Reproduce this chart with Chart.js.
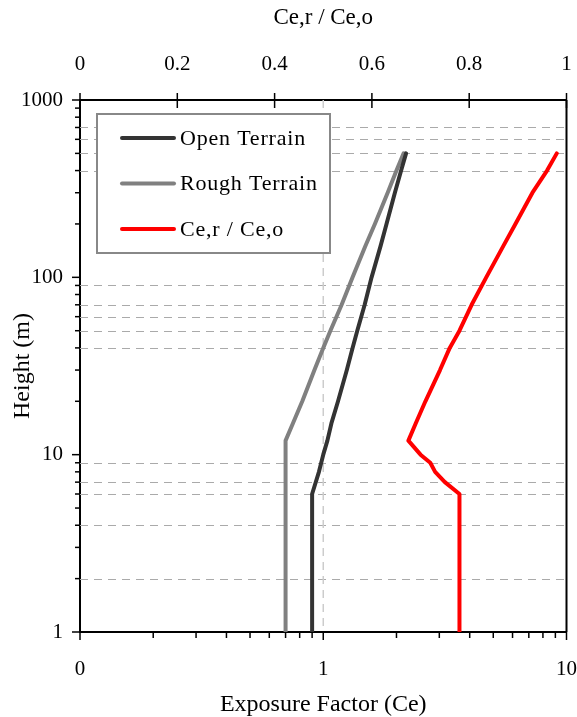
<!DOCTYPE html>
<html>
<head>
<meta charset="utf-8">
<script src="https://cdn.jsdelivr.net/npm/chart.js@4.4.1/dist/chart.umd.min.js"></script>
<style>
  html, body { margin: 0; padding: 0; background: #fff; }
  #wrap { width: 577px; height: 717px; }
</style>
</head>
<body>
<div id="wrap"><canvas id="c" width="577" height="717"></canvas></div>
<script>
"use strict";

// ---- values ----
const openHeight  = [1, 6, 8, 10, 12, 15, 20, 30, 40, 50, 70, 100, 150, 200, 300, 400, 500];
const openCe      = [0.90, 0.90, 0.96, 1.00, 1.04, 1.08, 1.15, 1.25, 1.32, 1.38, 1.48, 1.58, 1.72, 1.82, 1.97, 2.09, 2.19];
const roughHeight = [1, 12, 15, 20, 30, 40, 50, 70, 100, 150, 200, 300, 400, 500];
const roughCe     = [0.70, 0.70, 0.75, 0.82, 0.92, 1.00, 1.07, 1.19, 1.32, 1.49, 1.63, 1.84, 2.00, 2.14];
const ratioHeight = [1, 6, 7, 8, 9, 10, 12, 15, 20, 30, 40, 50, 70, 100, 150, 200, 300, 400, 500];
const ratioValue  = [0.78, 0.78, 0.75, 0.73, 0.72, 0.70, 0.675, 0.69, 0.71, 0.74, 0.76, 0.78, 0.805, 0.835, 0.87, 0.895, 0.93, 0.96, 0.98];

// ---- axes ----
const heightTicks = [1, 2, 3, 4, 5, 6, 7, 8, 9, 10, 20, 30, 40, 50, 60, 70, 80, 90,
                     100, 200, 300, 400, 500, 600, 700, 800, 900, 1000];
const heightMajor = [1, 10, 100, 1000];
const heightMajorLabels = ["1", "10", "100", "1000"];
const ceTicks = [0.1, 0.2, 0.3, 0.4, 0.5, 0.6, 0.7, 0.8, 0.9, 1, 2, 3, 4, 5, 6, 7, 8, 9, 10];
const ceMajor = [0.1, 1, 10];
const ceMajorLabels = ["0", "1", "10"];
const ratioTicks = [0, 0.2, 0.4, 0.6, 0.8, 1];
const ratioTickLabels = ["0", "0.2", "0.4", "0.6", "0.8", "1"];

// dashed reference lines
const gridHeights = [2, 4, 6, 7, 9, 40, 50, 60, 70, 90, 400, 500, 600, 700];
const gridCe = [1];

const FONT = "'Liberation Serif', 'Times New Roman', serif";
const pts = (xs, ys) => xs.map((y, i) => ({ x: ys[i], y }));
const CLEAR = "rgba(0,0,0,0)";

// ---- frame, ticks, dashed lines and legend ----
const frame = {
  id: "frame",
  beforeDatasetsDraw(chart) {
    const { ctx, chartArea: a, scales } = chart;
    ctx.save();
    ctx.beginPath();
    ctx.rect(a.left, a.top, a.right - a.left, a.bottom - a.top);
    ctx.clip();
    ctx.lineWidth = 1;
    ctx.setLineDash([8, 6]);
    ctx.strokeStyle = "#aaaaaa";
    gridHeights.forEach((h) => {
      const y = Math.round(scales.y.getPixelForValue(h)) + 0.5;
      ctx.beginPath(); ctx.moveTo(a.left, y); ctx.lineTo(a.right, y); ctx.stroke();
    });
    ctx.strokeStyle = "#cccccc";
    ctx.lineWidth = 1.5;
    gridCe.forEach((v) => {
      const x = scales.x.getPixelForValue(v);
      ctx.beginPath(); ctx.moveTo(x, a.top); ctx.lineTo(x, a.bottom); ctx.stroke();
    });
    ctx.restore();
  },
  afterDraw(chart) {
    const { ctx, chartArea: a, scales } = chart;
    ctx.save();
    ctx.strokeStyle = "#000";
    ctx.lineWidth = 1.5;
    const seg = (x1, y1, x2, y2) => { ctx.beginPath(); ctx.moveTo(x1, y1); ctx.lineTo(x2, y2); ctx.stroke(); };

    heightTicks.forEach((h) => {
      const y = scales.y.getPixelForValue(h);
      seg(a.left - (heightMajor.includes(h) ? 8 : 5), y, a.left, y);
    });
    ceTicks.forEach((v) => {
      const x = scales.x.getPixelForValue(v);
      seg(x, a.bottom, x, a.bottom + (ceMajor.includes(v) ? 8 : 6));
    });
    ratioTicks.forEach((v) => {
      const x = scales.x2.getPixelForValue(v);
      seg(x, a.top - 7, x, a.top + 8);
    });

    // right edge of the frame
    ctx.lineWidth = 2;
    seg(a.right, a.top, a.right, a.bottom);

    // legend
    const lx = a.left + 17, ly = a.top + 14, lw = 233, lh = 139;
    ctx.fillStyle = "#fff";
    ctx.fillRect(lx, ly, lw, lh);
    ctx.strokeStyle = "#888";
    ctx.lineWidth = 2;
    ctx.strokeRect(lx, ly, lw, lh);
    ctx.font = "22px " + FONT;
    ctx.letterSpacing = "0.8px";
    ctx.textBaseline = "middle";
    ctx.lineCap = "round";
    chart.data.datasets.forEach((ds, i) => {
      const y = ly + 24 + i * 45.5;
      ctx.strokeStyle = ds.borderColor;
      ctx.lineWidth = 4;
      seg(lx + 25, y, lx + 77, y);
      ctx.fillStyle = "#000";
      ctx.fillText(ds.label, lx + 83, y + 1);
    });
    ctx.restore();
  },
};

new Chart(document.getElementById("c"), {
  type: "line",
  data: {
    datasets: [
      { label: "Open Terrain", data: pts(openHeight, openCe), borderColor: "#333333",
        xAxisID: "x", yAxisID: "y" },
      { label: "Rough Terrain", data: pts(roughHeight, roughCe), borderColor: "#808080",
        xAxisID: "x", yAxisID: "y" },
      { label: "Ce,r / Ce,o", data: pts(ratioHeight, ratioValue), borderColor: "#ff0000",
        xAxisID: "x2", yAxisID: "y" },
    ],
  },
  options: {
    responsive: false,
    animation: false,
    devicePixelRatio: 1,
    layout: { padding: { top: 0, right: 10, bottom: 0, left: 0 } },
    elements: {
      line: { borderWidth: 4, tension: 0, borderJoinStyle: "round", borderCapStyle: "round", fill: false },
      point: { radius: 0 },
    },
    plugins: { legend: { display: false }, tooltip: { enabled: false } },
    scales: {
      y: {
        type: "logarithmic", position: "left", min: 1, max: 1000,
        afterBuildTicks: (s) => { s.ticks = heightTicks.map((v) => ({ value: v })); },
        afterFit: (s) => { s.width = 80; },
        grid: { drawOnChartArea: false, drawTicks: false },
        border: { display: true, color: "#000", width: 2 },
        ticks: {
          autoSkip: false, padding: 17, color: "#000",
          font: { family: FONT, size: 21, lineHeight: 1 },
          callback: (v) => { const i = heightMajor.indexOf(v); return i < 0 ? "" : heightMajorLabels[i]; },
        },
        title: { display: true, text: "Height (m)", color: "#000",
                 font: { family: FONT, size: 24, lineHeight: 1 }, padding: { top: 11, bottom: 0 } },
      },
      x: {
        type: "logarithmic", position: "bottom", min: 0.1, max: 10,
        afterBuildTicks: (s) => { s.ticks = ceTicks.map((v) => ({ value: v })); },
        afterFit: (s) => { s.height = 85; },
        grid: { drawOnChartArea: false, drawTicks: true, tickLength: 27, tickColor: CLEAR },
        border: { display: true, color: "#000", width: 2 },
        ticks: {
          autoSkip: false, maxRotation: 0, padding: 0, color: "#000",
          font: { family: FONT, size: 21, lineHeight: 1 },
          callback: (v) => { const i = ceMajor.indexOf(v); return i < 0 ? "" : ceMajorLabels[i]; },
        },
        title: { display: true, text: "Exposure Factor (Ce)", color: "#000",
                 font: { family: FONT, size: 24, lineHeight: 1 }, padding: { top: 0, bottom: 0 } },
      },
      x2: {
        type: "linear", position: "top", min: 0, max: 1,
        afterBuildTicks: (s) => { s.ticks = ratioTicks.map((v) => ({ value: v })); },
        afterFit: (s) => { s.height = 100; },
        grid: { drawOnChartArea: false, drawTicks: true, tickLength: 25, tickColor: CLEAR },
        border: { display: true, color: "#000", width: 2 },
        ticks: {
          autoSkip: false, maxRotation: 0, padding: 0, color: "#000",
          font: { family: FONT, size: 21, lineHeight: 1 },
          callback: (v) => { const i = ratioTicks.indexOf(v); return i < 0 ? "" : ratioTickLabels[i]; },
        },
        title: { display: true, text: "Ce,r / Ce,o", color: "#000",
                 font: { family: FONT, size: 23, lineHeight: 1 }, padding: { top: 6, bottom: 0 } },
      },
    },
  },
  plugins: [frame],
});
</script>
</body>
</html>
